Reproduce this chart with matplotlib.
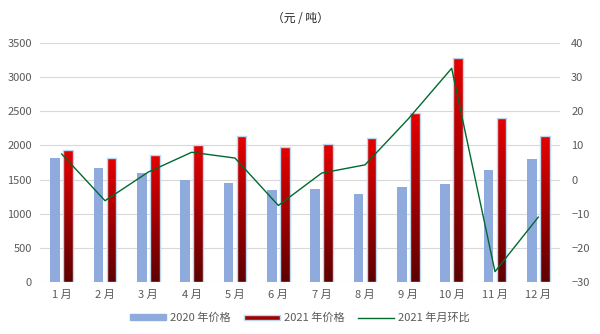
import matplotlib.pyplot as plt
import matplotlib.patches as mpatches
from matplotlib.legend_handler import HandlerPatch
from matplotlib.colors import LinearSegmentedColormap
import numpy as np

plt.rcParams['font.family'] = ['Noto Sans CJK SC', 'DejaVu Sans']

months = ["1 月", "2 月", "3 月", "4 月", "5 月", "6 月",
          "7 月", "8 月", "9 月", "10 月", "11 月", "12 月"]
price_2020 = [1820, 1675, 1590, 1490, 1445, 1340, 1355, 1285, 1385, 1430, 1635, 1795]
price_2021 = [1935, 1815, 1860, 2010, 2140, 1980, 2020, 2110, 2475, 3280, 2400, 2140]
mom_2021 = [7.5, -6.2, 2.2, 8.0, 6.3, -7.6, 1.9, 4.3, 17.8, 32.6, -27.0, -11.0]

blue = "#8FAADC"
edge = "#BDD7EE"
green = "#006A2E"
txt = "#595959"

fig = plt.figure(figsize=(6, 3.34), dpi=100)
ax = fig.add_axes([0.0667, 0.156, 0.8666, 0.715])

x = np.arange(len(months))
w = 0.225
off = 0.15

ax.bar(x - off, price_2020, width=w, color=blue, zorder=2)

# red bars: vertical gradient (bright top, dark bottom) clipped to each bar
grad = np.linspace(0, 1, 256).reshape(-1, 1)
cmap = LinearSegmentedColormap.from_list("rg", ["#5E0000", "#E60000"])
red_bars = ax.bar(x + off, price_2021, width=w, facecolor="none",
                  edgecolor=edge, linewidth=1.0, zorder=3)
for b, v in zip(red_bars, price_2021):
    x0 = b.get_x()
    im = ax.imshow(grad, cmap=cmap, origin="lower", aspect="auto",
                   interpolation="bilinear",
                   extent=(x0 - 0.05, x0 + w + 0.05, 0, v), zorder=2)
    im.set_clip_path(b)

ax.set_xlim(-0.5, len(months) - 0.5)
ax.set_ylim(0, 3500)
ax.set_yticks(range(0, 3501, 500))
ax.set_xticks(x)
ax.set_xticklabels(months)
ax.grid(axis="y", color="#D9D9D9", linewidth=0.8, zorder=0)
ax.set_axisbelow(True)
for s in ax.spines.values():
    s.set_visible(False)
ax.tick_params(length=0, labelsize=8, colors=txt, pad=6)

ax2 = ax.twinx()
ax2.plot(x, mom_2021, color=green, linewidth=1.0, zorder=4)
ax2.set_ylim(-30, 40)
ax2.set_yticks(range(-30, 41, 10))
for s in ax2.spines.values():
    s.set_visible(False)
ax2.tick_params(length=0, labelsize=8, colors=txt, pad=8)

fig.text(0.5, 0.945, "（元 / 吨）", ha="center", va="center", fontsize=8.5, color="#262626")


class GradHandler(HandlerPatch):
    def create_artists(self, legend, orig_handle, xdescent, ydescent, width, height, fontsize, trans):
        r = mpatches.Rectangle((-xdescent, -ydescent + height * 0.15), width, height * 0.7,
                               facecolor="#A00000", edgecolor=edge, linewidth=1, transform=trans)
        return [r]


h1 = mpatches.Patch(color=blue, label="2020 年价格")
h2 = mpatches.Patch(facecolor="#A00000", label="2021 年价格")
h3 = plt.Line2D([], [], color=green, linewidth=1.0, label="2021 年月环比")
fig.legend(handles=[h1, h2, h3], loc="center", bbox_to_anchor=(0.5, 0.048), ncol=3,
           frameon=False, fontsize=8, labelcolor=txt, handlelength=3.2, handleheight=0.5,
           columnspacing=1.2, handletextpad=0.4, handler_map={h2: GradHandler()})

fig.savefig("out.png", dpi=100)
